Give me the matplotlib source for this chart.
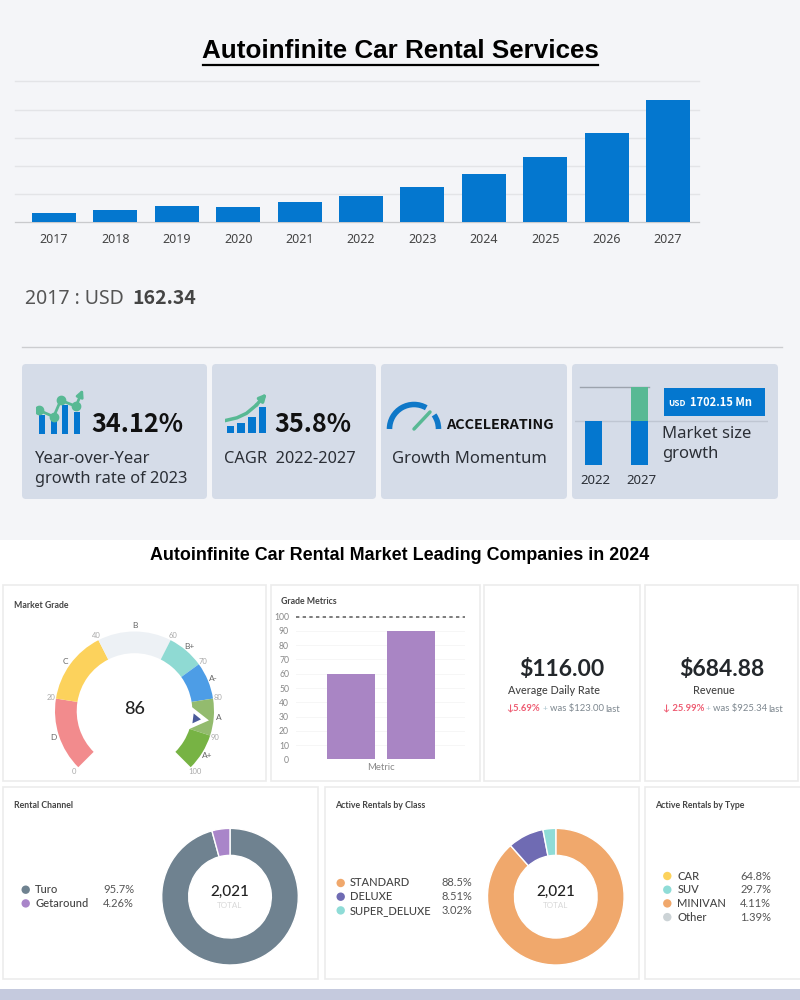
import matplotlib
matplotlib.use('Agg')
import matplotlib.pyplot as plt
from matplotlib.patches import Rectangle, FancyBboxPatch, Wedge, Circle, Arc, Polygon
import numpy as np

# Market size by year
years = [2017, 2018, 2019, 2020, 2021, 2022, 2023, 2024, 2025, 2026, 2027]
market_size = [162.34, 210, 280, 262, 349, 470, 630, 849, 1157, 1584, 2172]

# Small icons on the stat cards
icon1_bars = [19, 13, 29, 22]
icon1_trend_x = [-0.25, 1.0, 1.6, 2.9, 3.5]
icon1_trend_y = [24, 17.6, 34, 28, 45]
icon2_bars = [7, 10.6, 16, 26.6]
icon2_trend_x = [-0.4, 0.6, 1.5, 2.4, 3.4]
icon2_trend_y = [13, 15.5, 20, 28, 40]
mini_years = ['2022', '2027']
mini_base = [2273, 2273]
mini_growth = [0, 1702.15]

# Gauge
grade_edges = [0, 20, 40, 60, 70, 80, 90, 100]
grade_names = ['D', 'C', 'B', 'B+', 'A-', 'A', 'A+']
grade_colors = ['#f28b8d', '#fcd25c', '#edf1f5', '#8fdad3', '#4d9de6', '#93bb6e', '#77b344']
grade_ticks = [0, 20, 40, 60, 70, 80, 90, 100]
grade_value = 86

metric_values = [60, 90]
metric_ticks = list(range(0, 101, 10))

# Donuts
channel_names = ['Turo', 'Getaround']
channel_values = [95.7, 4.26]
channel_labels = ['95.7%', '4.26%']
channel_colors = ['#6f8290', '#a985c9']
class_names = ['STANDARD', 'DELUXE', 'SUPER_DELUXE']
class_values = [88.5, 8.51, 3.02]
class_labels = ['88.5%', '8.51%', '3.02%']
class_colors = ['#f0a86c', '#6f6bb3', '#8fdcd7']
type_names = ['CAR', 'SUV', 'MINIVAN', 'Other']
type_labels = ['64.8%', '29.7%', '4.11%', '1.39%']
type_colors = ['#fcd25c', '#8fdcd7', '#f0a86c', '#ccd3d6']

BLUE = '#0477cf'
GREEN = '#58b994'
SANS = ['Noto Sans', 'DejaVu Sans']
SANS_BOLD = ['Noto Sans CJK SC', 'DejaVu Sans']
LATO = ['Lato', 'DejaVu Sans']
ARIAL = ['Liberation Sans', 'DejaVu Sans']

fig = plt.figure(figsize=(8, 10), dpi=100, facecolor='white')

# full page layer, measured in pixels from the top left
page = fig.add_axes([0, 0, 1, 1])
page.set_xlim(0, 800)
page.set_ylim(1000, 0)
page.axis('off')


def px_axes(x0, y0, x1, y1):
    ax = fig.add_axes([x0 / 800, 1 - y1 / 1000, (x1 - x0) / 800, (y1 - y0) / 1000])
    ax.patch.set_alpha(0)
    return ax


def label(x, y, s, size, color='#222222', ha='left', weight='normal', family=SANS):
    page.text(x, y, s, fontsize=size, color=color, ha=ha, va='center',
              fontweight=weight, family=family)


def clean(ax):
    for side in ax.spines.values():
        side.set_visible(False)
    ax.set_xticks([])
    ax.set_yticks([])


# backgrounds
page.add_patch(Rectangle((0, 0), 800, 540, color='#f4f5f8', lw=0))
page.add_patch(Rectangle((0, 989), 800, 11, color='#c5cade', lw=0))

# title
label(400.5, 50.5, 'Autoinfinite Car Rental Services', 18.7, '#000000', 'center', 'bold', ARIAL)
page.plot([203, 598], [64.5, 64.5], color='#000000', lw=1.6)

# main bar chart
ax = px_axes(15, 81.5, 699, 222)
ax.bar(range(len(years)), market_size, width=0.717, color=BLUE, zorder=3)
ax.set_xlim(-0.635, 10.505)
ax.set_ylim(0, 2500)
ax.set_yticks(range(0, 2501, 500))
ax.set_yticklabels([])
ax.set_xticks(range(len(years)))
ax.set_xticklabels(years, fontsize=9, color='#444444', family=SANS)
ax.tick_params(length=0, pad=8)
ax.grid(axis='y', color='#e3e4e7', lw=1, clip_on=False)
for name, side in ax.spines.items():
    side.set_visible(name == 'bottom')
ax.spines['bottom'].set_color('#c9cacd')

label(25, 299, '2017 : USD', 14, '#555555')
label(132, 298, '162.34', 14, '#444444', weight='bold', family=SANS_BOLD)
page.plot([22, 782], [347, 347], color='#cccdd0', lw=1)

# stat cards
for x0, x1 in [(22, 207), (212, 376), (381, 567), (572, 778)]:
    page.add_patch(FancyBboxPatch((x0, 364), x1 - x0, 135, color='#d5dce8', lw=0,
                                  boxstyle='round,pad=0,rounding_size=4'))

# card 1
ax = px_axes(36, 388, 86, 434.3)
clean(ax)
ax.bar(range(4), icon1_bars, width=0.5, color=BLUE)
ax.plot(icon1_trend_x[:4], icon1_trend_y[:4], color=GREEN, lw=2, marker='o', ms=6)
ax.annotate('', xy=(icon1_trend_x[4], icon1_trend_y[4]), xytext=(icon1_trend_x[3], icon1_trend_y[3]),
            arrowprops=dict(arrowstyle='-|>', color=GREEN, lw=2, shrinkA=0, shrinkB=0))
ax.set_xlim(-0.51, 3.76)
ax.set_ylim(0, 46.3)
label(91, 424.5, '34.12%', 18.2, '#111111', weight='bold', family=SANS_BOLD)
label(35, 459, 'Year-over-Year', 12, '#2b2f36')
label(35, 479, 'growth rate of 2023', 11.8, '#2b2f36')

# card 2
ax = px_axes(225, 390, 270, 433.3)
clean(ax)
ax.bar(range(4), icon2_bars, width=0.72, color=BLUE)
ax.plot(icon2_trend_x[:4], icon2_trend_y[:4], color=GREEN, lw=2.5)
ax.annotate('', xy=(icon2_trend_x[4], icon2_trend_y[4]), xytext=(icon2_trend_x[3], icon2_trend_y[3]),
            arrowprops=dict(arrowstyle='-|>', color=GREEN, lw=2.5, shrinkA=0, shrinkB=0))
ax.set_xlim(-0.52, 3.7)
ax.set_ylim(0, 43.3)
label(274, 424.5, '35.8%', 18.2, '#111111', weight='bold', family=SANS_BOLD)
label(224, 459, 'CAGR  2022-2027', 11.8, '#2b2f36')

# card 3
ax = px_axes(384, 400, 444, 434)
clean(ax)
ax.add_patch(Arc((0, 0), 49, 49, theta1=0, theta2=35, color='#0f78c8', lw=4))
ax.add_patch(Arc((0, 0), 49, 49, theta1=60, theta2=180, color='#0f78c8', lw=4))
ax.plot([0, 16], [0, 17], color=GREEN, lw=2.5, solid_capstyle='round')
ax.set_xlim(-30, 30)
ax.set_ylim(-5, 29)
label(446.5, 425, 'ACCELERATING', 10.4, '#111111', weight='bold', family=SANS_BOLD)
label(392, 459, 'Growth Momentum', 12, '#2b2f36')

# card 4
ax = px_axes(575, 387.3, 768, 465.3)
clean(ax)
ax.bar([0, 1], mini_base, width=0.376, color=BLUE, zorder=3)
ax.bar([0, 1], mini_growth, width=0.376, bottom=mini_base, color=GREEN, zorder=3)
ax.set_xlim(-0.403, 3.793)
ax.set_ylim(0, mini_base[1] + mini_growth[1])
ax.axhline(mini_base[0], color='#bfc6d2', lw=1)
ax.plot([-0.3, 1.2], [mini_base[1] + mini_growth[1]] * 2, color='#9ca3ad', lw=1, clip_on=False)
for i, yr in enumerate(mini_years):
    label(595 + i * 46.7, 480, yr, 9.5, '#2b2f36', 'center')
page.add_patch(Rectangle((664, 388), 101, 28, color=BLUE, lw=0, zorder=5))
page.text(668, 403, 'USD', fontsize=6, color='white', fontweight='bold', va='center', family=SANS_BOLD, zorder=6)
page.text(690, 402, '1702.15 Mn', fontsize=8, color='white', fontweight='bold', va='center', family=SANS_BOLD, zorder=6)
label(662, 433.5, 'Market size', 12, '#2b2f36')
label(662, 454, 'growth', 12, '#2b2f36')

# lower section
label(400, 555, 'Autoinfinite Car Rental Market Leading Companies in 2024', 12.9, '#000000', 'center', 'bold', ARIAL)

panels = [(3, 585, 266, 781), (271, 585, 480, 781), (484, 585, 640, 781), (645, 585, 798, 781),
          (3, 787, 318, 979), (325, 787, 639, 979), (645, 787, 801, 979)]
for x0, y0, x1, y1 in panels:
    page.add_patch(Rectangle((x0, y0), x1 - x0, y1 - y0, fc='white', ec='#ececec', lw=1.2))

panel_title = {'size': 6.3, 'color': '#444444', 'weight': 'bold', 'family': LATO}
label(14, 605.5, 'Market Grade', **panel_title)
label(281, 601, 'Grade Metrics', **panel_title)
label(14.3, 805.5, 'Rental Channel', **panel_title)
label(334.7, 805.5, 'Active Rentals by Class', **panel_title)
label(655, 805.5, 'Active Rentals by Type', **panel_title)


# gauge runs clockwise from 225 degrees down to -45 degrees
def grade_angle(v):
    return 225 - 2.7 * v


ax = px_axes(34.5, 611, 234.5, 811)
clean(ax)
ax.set_xlim(-100, 100)
ax.set_ylim(-100, 100)
for i, col in enumerate(grade_colors):
    ax.add_patch(Wedge((0, 0), 79.5, grade_angle(grade_edges[i + 1]), grade_angle(grade_edges[i]),
                       width=21.7, color=col, lw=0))
    mid = np.radians(grade_angle((grade_edges[i] + grade_edges[i + 1]) / 2))
    ax.text(85 * np.cos(mid), 85 * np.sin(mid), grade_names[i], fontsize=6, color='#666666',
            ha='center', va='center', family=LATO)
for t in grade_ticks:
    a = np.radians(grade_angle(t))
    ax.text(85 * np.cos(a), 85 * np.sin(a), str(t), fontsize=5.5, color='#aaaaaa',
            ha='center', va='center', family=LATO)


def pointer(r_base, r_tip, half):
    a = np.radians(grade_angle(grade_value))
    u = np.array([np.cos(a), np.sin(a)])
    n = np.array([-u[1], u[0]])
    return [u * r_tip, u * r_base + n * half, u * r_base - n * half]


ax.add_patch(Polygon(pointer(55, 75, 12), color='white', lw=0))
ax.add_patch(Polygon(pointer(59, 67, 5), color='#4a5a9a', lw=0))
label(134.3, 708.5, str(grade_value), 13, '#222222', 'center', 'medium', LATO)

# grade metrics bars
ax = px_axes(296, 616.7, 465, 759.3)
ax.bar([0, 1], metric_values, width=0.795, color='#a985c4', zorder=3)
ax.set_xlim(-0.913, 1.903)
ax.set_ylim(0, 100)
ax.set_yticks(metric_ticks)
ax.set_xticks([0.5])
ax.set_xticklabels(['Metric'], fontsize=6.8, color='#888888', family=LATO)
ax.tick_params(axis='x', length=0, pad=3)
ax.tick_params(axis='y', length=0, pad=5, labelsize=6.2, labelcolor='#888888')
for t in ax.get_yticklabels():
    t.set_family(LATO)
ax.grid(axis='y', color='#f6f6f6', lw=0.7)
for side in ax.spines.values():
    side.set_visible(False)
ax.axhline(100, color='#666666', lw=1.2, ls=(0, (2, 2)), clip_on=False, zorder=4)

# KPI panels
label(561.7, 670, '$116.00', 16.5, '#23272b', 'center', 'bold', LATO)
label(554, 690, 'Average Daily Rate', 7.8, '#444444', 'center', 'medium', LATO)
label(506.5, 708, '↓5.69%', 6.8, '#ee5c72', weight='bold', family=LATO)
label(545, 708, '+', 6, '#a9c3cc', 'center', family=LATO)
label(550, 708, 'was $123.00', 6.8, '#7d878f', family=LATO)
label(605, 709, 'last', 6.8, '#7d878f', family=LATO)

label(721.7, 670, '$684.88', 16.5, '#23272b', 'center', 'bold', LATO)
label(714, 690, 'Revenue', 7.8, '#444444', 'center', 'medium', LATO)
label(663, 708, '↓ 25.99%', 6.8, '#ee5c72', weight='bold', family=LATO)
label(707.7, 708, '+', 6, '#a9c3cc', 'center', family=LATO)
label(712.7, 708, 'was $925.34', 6.8, '#7d878f', family=LATO)
label(768, 709, 'last', 6.8, '#7d878f', family=LATO)


def donut(cx, values, colors):
    a = px_axes(cx - 69, 827.7, cx + 69, 965.7)
    a.pie(values, colors=colors, startangle=90, counterclock=False, radius=1,
          wedgeprops=dict(width=0.395, edgecolor='white', linewidth=1))
    a.set_xlim(-1.01, 1.01)
    a.set_ylim(-1.01, 1.01)
    label(cx, 891.5, '2,021', 11, '#222222', 'center', 'medium', LATO)
    label(cx, 905.7, 'TOTAL', 5.8, '#d8d8d8', 'center', family=LATO)


def legend(names, labels, colors, x_dot, x_text, x_pct, y_top):
    for i, name in enumerate(names):
        y = y_top + i * 13.7
        page.add_patch(Circle((x_dot, y), 4.2, color=colors[i], lw=0))
        label(x_text, y, name, 8, '#444444', weight='medium', family=LATO)
        label(x_pct, y, labels[i], 8, '#555555', 'right', family=LATO)


donut(230, channel_values, channel_colors)
legend(channel_names, channel_labels, channel_colors, 25.7, 35, 134, 889.7)
donut(555.8, class_values, class_colors)
legend(class_names, class_labels, class_colors, 340.7, 350, 472.3, 883)
legend(type_names, type_labels, type_colors, 667.3, 677.3, 771.3, 876)

fig.savefig('out.png', dpi=100)
